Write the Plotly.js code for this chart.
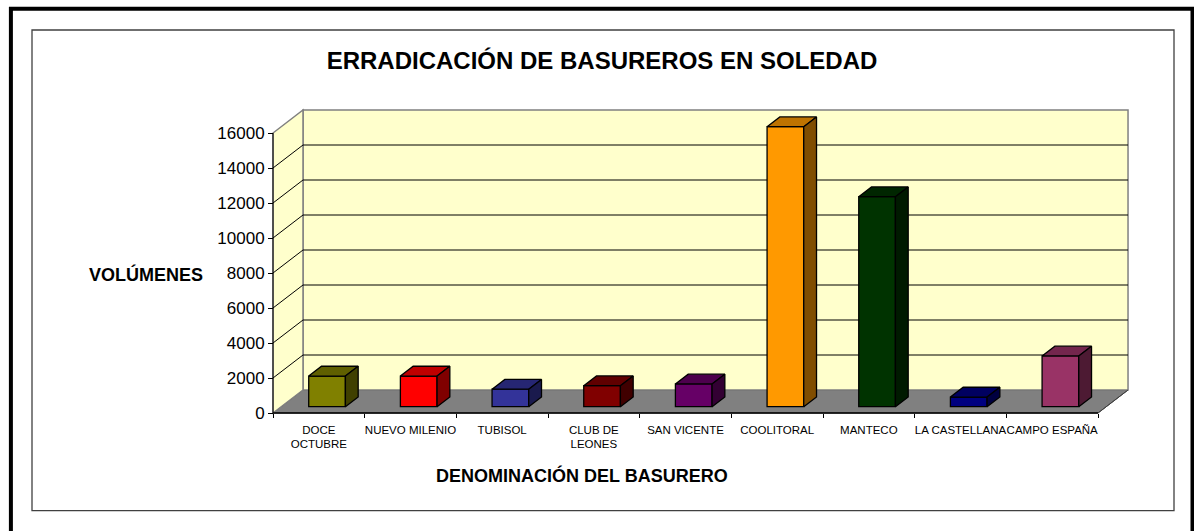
<!DOCTYPE html>
<html><head><meta charset="utf-8">
<script src="https://cdn.plot.ly/plotly-3.0.1.min.js"></script>
<style>html,body{margin:0;padding:0;background:#fff;}#chart{width:1194px;height:531px;}</style>
</head><body><div id="chart"></div>
<script>
// ---- data ----
const categories = ['DOCE<br>OCTUBRE','NUEVO MILENIO','TUBISOL','CLUB DE<br>LEONES','SAN VICENTE','COOLITORAL','MANTECO','LA CASTELLANA','CAMPO ESPAÑA'];
const volumes = [1750, 1750, 1000, 1200, 1300, 16000, 12000, 550, 2900];
const frontColors = ['#808000','#FF0000','#333399','#800000','#660066','#FF9900','#003300','#000080','#993366'];
const yTicks = [0, 2000, 4000, 6000, 8000, 10000, 12000, 14000, 16000];
const titleText = 'ERRADICACIÓN DE BASUREROS EN SOLEDAD';
const yTitleText = 'VOLÚMENES';
const xTitleText = 'DENOMINACIÓN DEL BASURERO';

// ---- geometry ----
const FONT = 'Liberation Sans, Arial, sans-serif';
const W = 1194, H = 531;
const X0 = 273, Y0 = 413;          // front origin (px)
const SX = 91.67;                  // px per category
const SY = 17.5 / 1000;            // px per unit
const DX = 30 / SX, DY = 23 / SY;  // wall depth offset in data units
const D0 = 0.274, D1 = 0.70;       // bar depth (fraction of wall depth)
const BW = 0.4;                    // bar width (category units)
const L = 270, R = 1133, T = 107, B = 416; // plot area px
const N = categories.length;
const YTOP = yTicks[yTicks.length - 1];

const xr = [(L - X0) / SX, (R - X0) / SX];
const yr = [(Y0 - B) / SY, (Y0 - T) / SY];
const pxX = px => (px - L) / (R - L);
const pyY = py => (B - py) / (B - T);

function shade(hex, f) {
  const n = parseInt(hex.slice(1), 16);
  const r = Math.round(((n >> 16) & 255) * f), g = Math.round(((n >> 8) & 255) * f), b = Math.round((n & 255) * f);
  return 'rgb(' + r + ',' + g + ',' + b + ')';
}

// ---- walls / floor / grid (shapes, below traces) ----
const shapes = [];
const P = (pts) => 'M' + pts.map(p => p[0] + ',' + p[1]).join('L') + 'Z';
shapes.push({type:'path', xref:'x', yref:'y', layer:'below',
  path: P([[0,0],[N,0],[N+DX,DY],[DX,DY]]), fillcolor:'#808080', line:{color:'#404040', width:1}});
shapes.push({type:'rect', xref:'x', yref:'y', layer:'below',
  x0: DX, y0: DY, x1: N + DX, y1: YTOP + DY, fillcolor:'#FFFFCC', line:{color:'#808080', width:1.5}});
shapes.push({type:'path', xref:'x', yref:'y', layer:'below',
  path: P([[0,0],[0,YTOP],[DX,YTOP+DY],[DX,DY]]), fillcolor:'#FFFFCC', line:{color:'#808080', width:1.5}});
yTicks.forEach(t => {
  if (t === 0 || t === YTOP) return;
  shapes.push({type:'line', xref:'x', yref:'y', layer:'below', x0: DX, y0: t + DY, x1: N + DX, y1: t + DY, line:{color:'#000', width:1}});
  shapes.push({type:'line', xref:'x', yref:'y', layer:'below', x0: 0, y0: t, x1: DX, y1: t + DY, line:{color:'#000', width:1}});
});
shapes.push({type:'line', xref:'x', yref:'y', layer:'below', x0:0, y0:0, x1:0, y1:YTOP, line:{color:'#000', width:1}});
shapes.push({type:'line', xref:'x', yref:'y', layer:'below', x0:0, y0:0, x1:N, y1:0, line:{color:'#000', width:1.5}});
shapes.push({type:'line', xref:'x', yref:'y', layer:'below', x0:N, y0:0, x1:N+DX, y1:DY, line:{color:'#404040', width:1}});
// frames
shapes.push({type:'rect', xref:'paper', yref:'paper', x0:pxX(10.9), y0:pyY(8.8), x1:pxX(1192.5), y1:pyY(545), line:{color:'#000', width:4}});
shapes.push({type:'rect', xref:'paper', yref:'paper', x0:pxX(32), y0:pyY(30), x1:pxX(1174), y1:pyY(510.7), line:{color:'#404040', width:1.3}});

// ---- traces ----
const traces = [];
const base = D0 * DY;
traces.push({
  type:'bar', x: categories.map((_, i) => i + 0.5 + D0 * DX), y: volumes, base: base, width: BW,
  marker:{color: frontColors, line:{color:'#000', width:1.3}}, hoverinfo:'skip', showlegend:false
});
const ddx = (D1 - D0) * DX, ddy = (D1 - D0) * DY;
volumes.forEach((v, i) => {
  const xl = i + 0.5 - BW / 2 + D0 * DX, xrr = xl + BW, tp = v + base;
  traces.push({type:'scatter', mode:'lines', fill:'toself', fillcolor: shade(frontColors[i], 0.75),
    x:[xl, xrr, xrr + ddx, xl + ddx, xl], y:[tp, tp, tp + ddy, tp + ddy, tp],
    line:{color:'#000', width:1.3}, hoverinfo:'skip', showlegend:false});
  traces.push({type:'scatter', mode:'lines', fill:'toself', fillcolor: shade(frontColors[i], 0.5),
    x:[xrr, xrr, xrr + ddx, xrr + ddx, xrr], y:[base, tp, tp + ddy, base + ddy, base],
    line:{color:'#000', width:1.3}, hoverinfo:'skip', showlegend:false});
});
// carrier for the boundary tick axis
traces.push({type:'scatter', mode:'markers', x:[0], y:[0], xaxis:'x2', yaxis:'y', marker:{opacity:0}, hoverinfo:'skip', showlegend:false});

const layout = {
  width: W, height: H,
  margin: {l: L, r: W - R, t: T, b: H - B, pad: 0},
  paper_bgcolor:'#fff', plot_bgcolor:'rgba(0,0,0,0)',
  showlegend:false,
  font:{family: FONT, color:'#000'},
  title:{text: titleText, font:{family: FONT, size: 24, weight: 'bold', color:'#000'},
    xref:'container', yref:'container', x: 602 / W, y: 1 - 61 / H, xanchor:'center', yanchor:'middle'},
  xaxis:{range: xr, domain:[0,1], anchor:'free', position: (B - Y0) / (B - T),
    tickmode:'array', tickvals: categories.map((_, i) => i + 0.5), ticktext: categories,
    ticks:'', tickangle:0, ticklabelstandoff: 8, tickfont:{family: FONT, size: 11.5, color:'#000'},
    showgrid:false, zeroline:false, showline:false, fixedrange:true},
  xaxis2:{range: xr, overlaying:'x', anchor:'free', position: (B - Y0) / (B - T),
    tickmode:'array', tickvals: categories.map((_, i) => i).concat([N]),
    ticks:'outside', ticklen:4, tickwidth:1, tickcolor:'#000', showticklabels:false,
    showgrid:false, zeroline:false, showline:false, fixedrange:true},
  yaxis:{range: yr, domain:[0,1], anchor:'free', position: (X0 - L) / (R - L),
    tickmode:'array', tickvals: yTicks, ticktext: yTicks.map(String),
    ticks:'outside', ticklen:5, tickwidth:1, tickcolor:'#000',
    tickfont:{family: FONT, size: 17, color:'#000'},
    showgrid:false, zeroline:false, showline:false, fixedrange:true},
  shapes: shapes,
  annotations: [
    {text: yTitleText, xref:'paper', yref:'paper', x: pxX(145.5), y: pyY(274), xanchor:'center', yanchor:'middle',
     showarrow:false, font:{family: FONT, size: 18, weight:'bold', color:'#000'}},
    {text: xTitleText, xref:'paper', yref:'paper', x: pxX(582), y: pyY(475), xanchor:'center', yanchor:'middle',
     showarrow:false, font:{family: FONT, size: 18, weight:'bold', color:'#000'}}
  ]
};

Plotly.newPlot('chart', traces, layout, {staticPlot:true, displayModeBar:false});
</script>
</body></html>
